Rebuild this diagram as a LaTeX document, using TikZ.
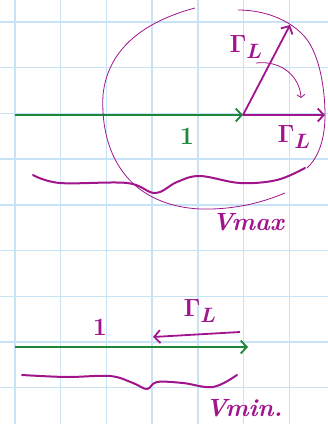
\documentclass[tikz,border=0pt]{standalone}
\usepackage{tikz}
\usetikzlibrary{arrows.meta, positioning, calc}
\definecolor{inkgreen}{RGB}{30,135,60}
\definecolor{inkpink}{RGB}{160,20,140}
\definecolor{gridblue}{RGB}{200,226,246}

\begin{document}
\begin{tikzpicture}[
  x=1pt, y=-1pt,
  every node/.style={font=\Huge\bfseries\boldmath, inner sep=1pt},
  gridline/.style={gridblue, line width=1.4pt},
  phasor/.style={-{Straight Barb[length=6pt,width=13pt]}, line width=1.8pt},
  grn/.style={inkgreen},
  pnk/.style={inkpink},
  loop/.style={inkpink, line width=0.8pt},
  brace/.style={inkpink, line width=2pt, line cap=round},
]
  \useasboundingbox (0,0) rectangle (328,424);

  % squared paper
  \foreach \i in {0,...,6}
    \draw[gridline] ({15+45.7*\i},0) -- ({15+45.7*\i},424);
  \foreach \j in {0,...,8}
    \draw[gridline] (0,{22+45.7*\j}) -- (328,{22+45.7*\j});

  % upper sketch: Vmax
  \coordinate (o1) at (15,115);
  \coordinate (p1) at (243,115);
  \coordinate (g1) at (325,115);
  \coordinate (r1) at (290,25);
  \coordinate (a1) at (256,63);
  \coordinate (a2) at (301,98);
  \draw[phasor, grn] (o1) -- (p1);
  \draw[phasor, pnk] (p1) -- (g1);
  \draw[phasor, pnk] (p1) -- (r1);
  \draw[pnk, line width=0.8pt, -{Straight Barb[length=3pt,width=8pt]}]
    (a1) .. controls (283,60) and (300,78) .. (a2);

  \draw[loop] (195,8) .. controls (150,20) and (108,45) .. (103,95)
    .. controls (100,150) and (125,205) .. (200,209)
    .. controls (240,210) and (268,200) .. (285,193);
  \draw[loop] (238,10) .. controls (265,10) and (290,20) .. (305,37)
    .. controls (320,55) and (325,90) .. (325,115)
    .. controls (325,140) and (318,158) .. (307,168);

  \draw[brace] plot[smooth, tension=0.6] coordinates
    {(33,175) (60,183) (127,183) (155,193) (177,182) (200,176) (240,183) (277,180) (305,168)};

  \node[grn] (one1) at (187,136) {1};
  \node[pnk] (gam1) at (294,137) {$\Gamma_L$};
  \node[pnk] (gam2) at (246,47) {$\Gamma_L$};
  \node[pnk] (vmax) at (248,222) {\itshape Vmax};

  % lower sketch: Vmin
  \coordinate (o2) at (15,347);
  \coordinate (p2) at (248,347);
  \coordinate (s2) at (240,332);
  \coordinate (e2) at (153,337);
  \draw[phasor, grn] (o2) -- (p2);
  \draw[phasor, pnk] (s2) -- (e2);

  \draw[brace] plot[smooth, tension=0.6] coordinates
    {(22,375) (67,377) (110,376) (133,383) (147,389) (157,382) (183,383) (213,387) (237,375)};

  \node[pnk] (one2) at (100,327) {1};
  \node[pnk] (gam3) at (200,311) {$\Gamma_L$};
  \node[pnk] (vmin) at (244,408) {\itshape Vmin.};
\end{tikzpicture}
\end{document}
